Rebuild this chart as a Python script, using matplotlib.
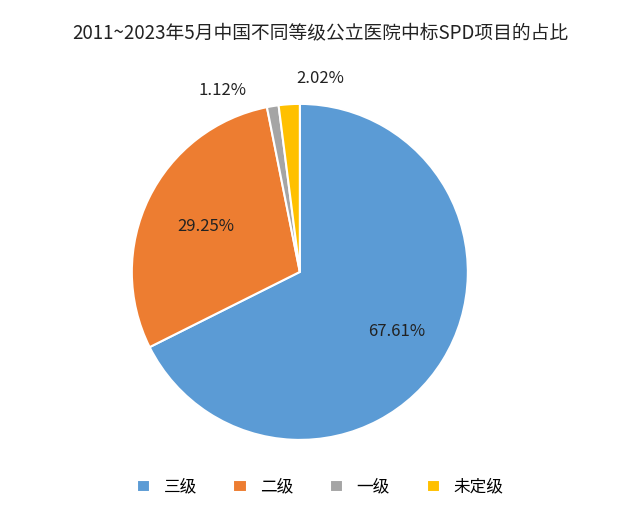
import numpy as np
import matplotlib.pyplot as plt
from matplotlib import font_manager

# pick a CJK font that is actually installed
cjk = [f.name for f in font_manager.fontManager.ttflist if 'CJK SC' in f.name or 'CJK' in f.name]
plt.rcParams['font.family'] = 'sans-serif'
plt.rcParams['font.sans-serif'] = (cjk[:1] if cjk else []) + ['Noto Sans CJK SC', 'DejaVu Sans']

categories = ['三级', '二级', '一级', '未定级']
shares = [67.61, 29.25, 1.12, 2.02]
colors = ['#5B9BD5', '#ED7D31', '#A5A5A5', '#FFC000']
# label placement (x, y in pie-radius units); None -> on the wedge
label_pos = [None, None, (-0.46, 1.08), (0.12, 1.15)]
label_dist = [0.68, 0.62, 0, 0]

fig = plt.figure(figsize=(6.4, 5.14), dpi=100)
ax = fig.add_axes([0.206, 0.144, 0.525, 0.654])
wedges, _ = ax.pie(shares, colors=colors, startangle=90, counterclock=False,
                   wedgeprops=dict(edgecolor='white', linewidth=1.5))
ax.set_aspect('equal')
ax.set_xlim(-1, 1)
ax.set_ylim(-1, 1)

for w, v, d, p in zip(wedges, shares, label_dist, label_pos):
    if p is None:
        ang = np.deg2rad((w.theta1 + w.theta2) / 2)
        p = (d * np.cos(ang), d * np.sin(ang))
    ax.text(p[0], p[1], f'{v:.2f}%', ha='center', va='center',
            fontsize=12, color='#222222', clip_on=False)

fig.text(0.5, 0.937, '2011~2023年5月中国不同等级公立医院中标SPD项目的占比',
         ha='center', va='center', fontsize=13.5, color='#222222')
fig.legend(wedges, categories, loc='center', bbox_to_anchor=(0.5, 0.052),
           ncol=4, frameon=False, fontsize=12, handlelength=0.8,
           handleheight=0.8, columnspacing=2.2)

fig.savefig('out.png', dpi=100)
